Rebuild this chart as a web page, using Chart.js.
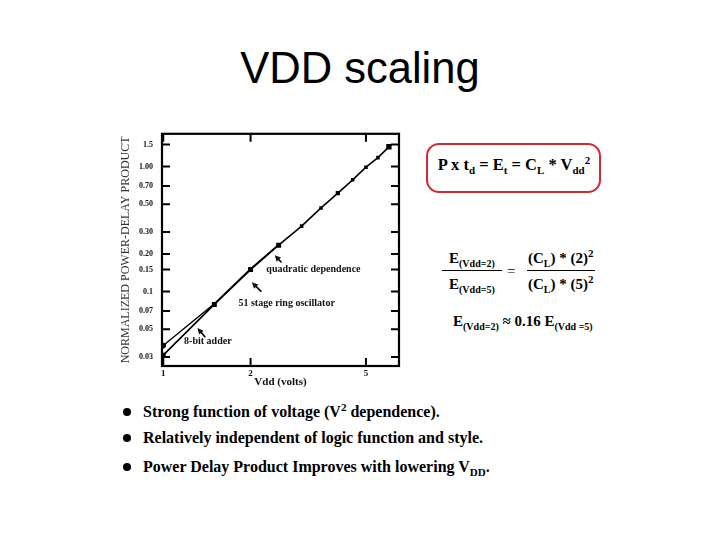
<!DOCTYPE html>
<html>
<head>
<meta charset="utf-8">
<script src="https://cdn.jsdelivr.net/npm/chart.js@4/dist/chart.umd.min.js"></script>
<style>
  html, body { margin: 0; padding: 0; background: #fff; }
  #page { position: relative; width: 720px; height: 540px; overflow: hidden; background: #fff; }
  .abs { position: absolute; white-space: nowrap; }
  #title { left: 0; width: 720px; top: 47px; text-align: center; font: 43.5px/42px "Liberation Sans", Arial, sans-serif; color: #000; }
  .serif { font-family: "Liberation Serif", "Times New Roman", serif; font-weight: bold; color: #000; }
  #box { left: 426px; top: 143px; width: 171px; height: 46px; border: 2px solid #d02a35; border-radius: 13px; }
  #boxtext { left: 428px; width: 172px; top: 155px; text-align: center; font-size: 16.5px; line-height: 20px; }
  sub, sup { line-height: 0; }
  .fr { font-size: 15px; line-height: 18px; }
  .fr sub { font-size: 10px; }
  .hline { position: absolute; height: 1px; background: #000; }
  .bullet { font-size: 16px; line-height: 18px; }
  .dot { position: absolute; width: 8px; height: 8px; border-radius: 50%; background: #000; }
  #chartwrap { position: absolute; left: 100px; top: 120px; width: 310px; height: 280px; }
</style>
</head>
<body>
<div id="page">
  <div id="title" class="abs">VDD scaling</div>

  <div id="chartwrap"><canvas id="c" width="310" height="280"></canvas></div>

  <div id="box" class="abs"></div>
  <div id="boxtext" class="abs serif">P x t<sub style="font-size:11px">d</sub> = E<sub style="font-size:11px">t</sub> = C<sub style="font-size:11px">L</sub> * V<sub style="font-size:11px">dd</sub><sup style="font-size:11px">2</sup></div>

  <div class="abs serif fr" style="left:449px; top:249px;">E<sub>(Vdd=2)</sub></div>
  <div class="hline" style="left:442px; top:270px; width:60px;"></div>
  <div class="abs serif fr" style="left:449px; top:275px;">E<sub>(Vdd=5)</sub></div>
  <div class="abs serif fr" style="left:507px; top:262px; font-weight:normal;">=</div>
  <div class="abs serif fr" style="left:528px; top:249px;">(C<sub>L</sub>) * (2)<sup style="font-size:11px">2</sup></div>
  <div class="hline" style="left:527px; top:270px; width:68px;"></div>
  <div class="abs serif fr" style="left:528px; top:275px;">(C<sub>L</sub>) * (5)<sup style="font-size:11px">2</sup></div>
  <div class="abs serif fr" style="left:453px; top:312px;">E<sub>(Vdd=2)</sub> ≈ 0.16 E<sub>(Vdd =5)</sub></div>

  <div class="dot" style="left:123px; top:408px;"></div>
  <div class="abs serif bullet" style="left:143px; top:403px;">Strong function of voltage (V<sup style="font-size:11px">2</sup> dependence).</div>
  <div class="dot" style="left:123px; top:434px;"></div>
  <div class="abs serif bullet" style="left:143px; top:429px;">Relatively independent of logic function and style.</div>
  <div class="dot" style="left:123px; top:463px;"></div>
  <div class="abs serif bullet" style="left:143px; top:458px;">Power Delay Product Improves with lowering V<sub style="font-size:11px">DD</sub>.</div>
</div>

<script>
// ---- data ----
const ringVdd   = [1, 1.5, 2, 2.5, 3, 3.5, 4, 4.5, 5, 5.5, 6];
const ringPDP   = [0.031, 0.079, 0.150, 0.235, 0.334, 0.467, 0.614, 0.784, 0.99, 1.18, 1.44];
const adderVdd  = [1, 1.5, 2, 2.5];
const adderPDP  = [0.037, 0.080, 0.152, 0.238];
const xTickValues = [1, 2, 5];
const xTickLabels = ['1', '2', '5'];
const yTickValues = [0.03, 0.05, 0.07, 0.1, 0.15, 0.2, 0.3, 0.5, 0.7, 1.0, 1.5];
const yTickLabels = ['0.03', '0.05', '0.07', '0.1', '0.15', '0.20', '0.30', '0.50', '0.70', '1.00', '1.5'];

// annotations: label text, label anchor (data coords), arrow tail and tip (data coords)
const annotTexts = ['quadratic dependence', '51 stage ring oscillator', '8-bit adder'];
const annotAnchors = [[2.267, 0.1496], [1.817, 0.0807], [1.180, 0.0401]];
const annotArrowTail = [[2.557, 0.1708], [2.179, 0.100], [1.396, 0.0431]];
const annotArrowTip  = [[2.423, 0.1955], [2.021, 0.1186], [1.312, 0.0511]];

const serif = '"Liberation Serif", "Times New Roman", serif';

const boxPlugin = {
  id: 'boxPlugin',
  afterDatasetsDraw(chart) {
    const ctx = chart.ctx;
    const {left, right, top, bottom} = chart.chartArea;
    const xs = chart.scales.x, ys = chart.scales.y;
    ctx.save();
    ctx.strokeStyle = '#000';
    ctx.lineWidth = 2.2;
    ctx.strokeRect(left, top, right - left, bottom - top);
    const tl = 8;
    ctx.lineWidth = 2;
    ctx.beginPath();
    yTickValues.forEach(v => {
      const y = ys.getPixelForValue(v);
      ctx.moveTo(left, y); ctx.lineTo(left + tl, y);
      ctx.moveTo(right, y); ctx.lineTo(right - tl, y);
    });
    xTickValues.forEach(v => {
      const x = xs.getPixelForValue(v);
      ctx.moveTo(x, bottom); ctx.lineTo(x, bottom - tl);
      ctx.moveTo(x, top); ctx.lineTo(x, top + tl);
    });
    ctx.stroke();

    // annotations
    ctx.fillStyle = '#111';
    ctx.font = 'bold 10px ' + serif;
    ctx.textBaseline = 'middle';
    ctx.textAlign = 'left';
    annotTexts.forEach((t, i) => {
      const ax = xs.getPixelForValue(annotAnchors[i][0]);
      const ay = ys.getPixelForValue(annotAnchors[i][1]);
      ctx.fillText(t, ax, ay);
      const x0 = xs.getPixelForValue(annotArrowTail[i][0]);
      const y0 = ys.getPixelForValue(annotArrowTail[i][1]);
      const x1 = xs.getPixelForValue(annotArrowTip[i][0]);
      const y1 = ys.getPixelForValue(annotArrowTip[i][1]);
      const ang = Math.atan2(y1 - y0, x1 - x0);
      ctx.lineWidth = 1.6;
      ctx.beginPath();
      ctx.moveTo(x0, y0);
      ctx.lineTo(x1 - 4 * Math.cos(ang), y1 - 4 * Math.sin(ang));
      ctx.stroke();
      const hl = 6, hw = 3;
      ctx.beginPath();
      ctx.moveTo(x1, y1);
      ctx.lineTo(x1 - hl * Math.cos(ang) + hw * Math.sin(ang), y1 - hl * Math.sin(ang) - hw * Math.cos(ang));
      ctx.lineTo(x1 - hl * Math.cos(ang) - hw * Math.sin(ang), y1 - hl * Math.sin(ang) + hw * Math.cos(ang));
      ctx.closePath();
      ctx.fill();
    });
    ctx.restore();
  }
};

new Chart(document.getElementById('c'), {
  type: 'line',
  data: {
    datasets: [
      {
        label: '51 stage ring oscillator',
        data: ringVdd.map((v, i) => ({x: v, y: ringPDP[i]})),
        borderColor: '#000',
        backgroundColor: '#000',
        borderWidth: 1.6,
        pointStyle: 'rect',
        pointRadius: [3.5, 3.5, 3.5, 3.5, 2.5, 2.5, 3, 2.5, 2.5, 2.5, 3.8],
        pointBorderWidth: 0,
        tension: 0
      },
      {
        label: '8-bit adder',
        data: adderVdd.map((v, i) => ({x: v, y: adderPDP[i]})),
        borderColor: '#000',
        backgroundColor: '#000',
        borderWidth: 1.4,
        pointStyle: 'circle',
        pointRadius: [2.8, 0, 0, 0],
        pointBorderWidth: 0,
        tension: 0
      }
    ]
  },
  options: {
    responsive: false,
    animation: false,
    devicePixelRatio: 1,
    layout: { padding: { left: 15, top: 12, right: 11, bottom: 10 } },
    plugins: { legend: { display: false }, tooltip: { enabled: false }, title: { display: false } },
    scales: {
      x: {
        type: 'logarithmic',
        min: 0.99, max: 6.5,
        grid: { display: false, drawTicks: false },
        border: { display: false },
        afterBuildTicks: (s) => { s.ticks = xTickValues.map(v => ({value: v})); },
        afterFit: (s) => { s.height = 24; },
        ticks: {
          autoSkip: false, maxRotation: 0, padding: 2,
          color: '#111',
          font: { family: serif, size: 9, weight: 'bold' },
          callback: (v, i) => xTickLabels[i]
        },
        title: {
          display: true, text: 'Vdd (volts)', color: '#111',
          font: { family: serif, size: 11, weight: 'bold' },
          padding: { top: 0, bottom: 1 }
        }
      },
      y: {
        type: 'logarithmic',
        min: 0.0254, max: 1.83,
        grid: { display: false, drawTicks: false },
        border: { display: false },
        afterBuildTicks: (s) => { s.ticks = yTickValues.map(v => ({value: v})); },
        afterFit: (s) => { s.width = 47; },
        ticks: {
          autoSkip: false, padding: 9,
          color: '#111',
          font: { family: serif, size: 8, weight: 'bold' },
          callback: (v, i) => yTickLabels[i]
        },
        title: {
          display: true, text: 'NORMALIZED POWER-DELAY PRODUCT', color: '#333',
          font: { family: serif, size: 12, weight: 'normal' },
          padding: { top: 4, bottom: 0 }
        }
      }
    }
  },
  plugins: [boxPlugin]
});
</script>
</body>
</html>
